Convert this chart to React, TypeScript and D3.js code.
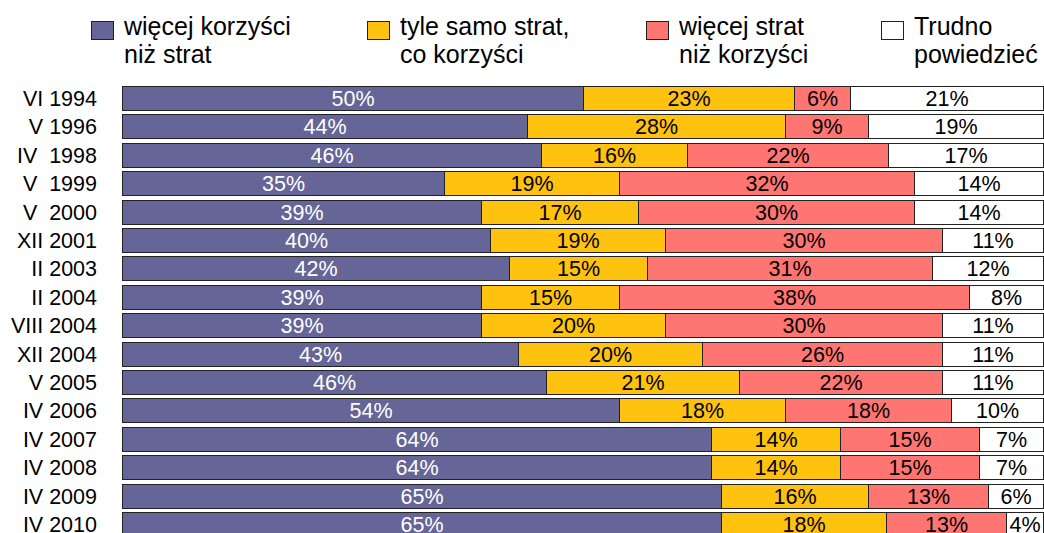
import React from "react";
import * as d3 from "d3";

const categories = [
  "VI 1994", "V 1996", "IV  1998", "V  1999", "V  2000", "XII 2001", "II 2003", "II 2004",
  "VIII 2004", "XII 2004", "V 2005", "IV 2006", "IV 2007", "IV 2008", "IV 2009", "IV 2010",
];
const moreBenefits = [50, 44, 46, 35, 39, 40, 42, 39, 39, 43, 46, 54, 64, 64, 65, 65];
const equal = [23, 28, 16, 19, 17, 19, 15, 15, 20, 20, 21, 18, 14, 14, 16, 18];
const moreLosses = [6, 9, 22, 32, 30, 30, 31, 38, 30, 26, 22, 18, 15, 15, 13, 13];
const hardToSay = [21, 19, 17, 14, 14, 11, 12, 8, 11, 11, 11, 10, 7, 7, 6, 4];

const seriesNames = [
  ["więcej korzyści", "niż strat"],
  ["tyle samo strat,", "co korzyści"],
  ["więcej strat", "niż korzyści"],
  ["Trudno", "powiedzieć"],
];
const colors = ["#656597", "#FFC20F", "#FF7571", "#FFFFFF"];
const textColors = ["#FFFFFF", "#000000", "#000000", "#000000"];

const FONT = "'Liberation Sans', Arial, Helvetica, sans-serif";

export default function App() {
  const W = 1044, H = 533;
  const series = [moreBenefits, equal, moreLosses, hardToSay];
  const x = d3.scaleLinear().domain([0, 1]).range([122, 1043]);
  const y = d3.scaleBand<string>().domain(categories).range([84, 84 + 16 * 28.4]).paddingInner(0.14).paddingOuter(0.07);
  const bw = y.bandwidth();

  const legendX = [91, 367, 646, 881];

  return (
    <svg width={W} height={H} style={{ position: "absolute", left: 0, top: 0, background: "#fff" }} fontFamily={FONT}>
      {seriesNames.map((lines, i) => (
        <g key={i}>
          <rect x={legendX[i] + 0.5} y={21.5} width={22} height={18} fill={colors[i]} stroke="#222" strokeWidth={1} />
          <text fontSize={25} fill="#000">
            <tspan x={legendX[i] + 33} y={35}>{lines[0]}</tspan>
            <tspan x={legendX[i] + 33} y={63}>{lines[1]}</tspan>
          </text>
        </g>
      ))}
      {categories.map((c, r) => {
        const vals = series.map((s) => s[r]);
        const total = d3.sum(vals);
        let acc = 0;
        const y0 = y(c)!;
        return (
          <g key={c}>
            <text x={97} y={y0 + bw / 2} dy="0.36em" textAnchor="end" fontSize={21.5} fill="#000" style={{ whiteSpace: "pre" }}>
              {c}
            </text>
            {vals.map((v, i) => {
              const a = acc / total;
              acc += v;
              const b = acc / total;
              const x0 = Math.round(x(a)) + 0.5;
              const x1 = Math.round(x(b)) + 0.5;
              return (
                <g key={i}>
                  <rect x={x0} y={Math.round(y0) + 0.5} width={x1 - x0} height={Math.round(bw)} fill={colors[i]} stroke="#222" strokeWidth={1} />
                  <text x={(x0 + x1) / 2} y={y0 + bw / 2} dy="0.36em" textAnchor="middle" fontSize={21.5} fill={textColors[i]}>
                    {v}%
                  </text>
                </g>
              );
            })}
          </g>
        );
      })}
    </svg>
  );
}
